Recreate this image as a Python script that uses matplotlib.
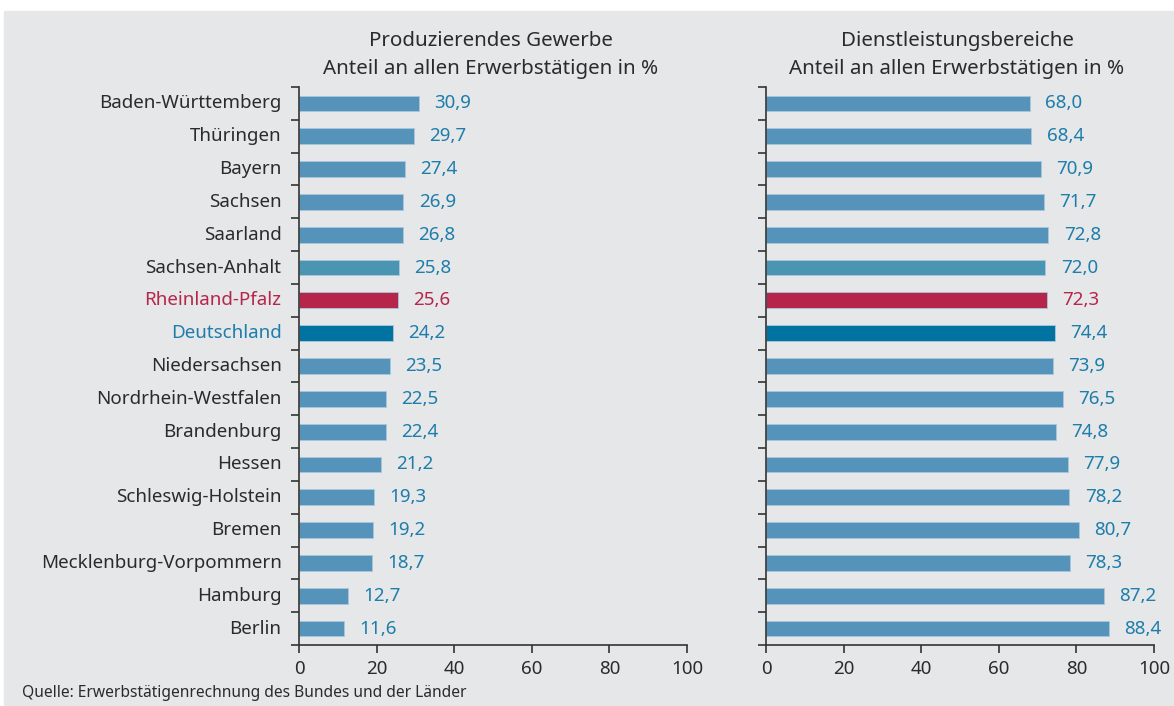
import matplotlib
matplotlib.use('Agg')
import matplotlib.pyplot as plt
from matplotlib.patches import Rectangle

# Bundeslaender, top to bottom
laender = ['Baden-Württemberg', 'Thüringen', 'Bayern', 'Sachsen', 'Saarland',
           'Sachsen-Anhalt', 'Rheinland-Pfalz', 'Deutschland', 'Niedersachsen',
           'Nordrhein-Westfalen', 'Brandenburg', 'Hessen', 'Schleswig-Holstein',
           'Bremen', 'Mecklenburg-Vorpommern', 'Hamburg', 'Berlin']
gewerbe = [30.9, 29.7, 27.4, 26.9, 26.8, 25.8, 25.6, 24.2, 23.5, 22.5,
           22.4, 21.2, 19.3, 19.2, 18.7, 12.7, 11.6]
dienst = [68.0, 68.4, 70.9, 71.7, 72.8, 72.0, 72.3, 74.4, 73.9, 76.5,
          74.8, 77.9, 78.2, 80.7, 78.3, 87.2, 88.4]
xticks = [0, 20, 40, 60, 80, 100]

BG = '#e6e7e9'
BAR = '#5593bb'
BLUE_TXT = '#1d7dab'
RED = '#b5264a'
DE = '#0073a0'
ANHALT = '#4a96b2'
DARK = '#2b2b2b'
FS = 13.5

plt.rcParams['font.family'] = ['Noto Sans', 'DejaVu Sans']

fig = plt.figure(figsize=(11.74, 7.06), dpi=100)
fig.patch.set_facecolor('white')
fig.patches.append(Rectangle((4 / 1174, 0), 1, 1 - 11 / 706,
                             transform=fig.transFigure, color=BG, zorder=-10))


def bar_color(name):
    if name == 'Rheinland-Pfalz':
        return RED
    if name == 'Deutschland':
        return DE
    if name == 'Sachsen-Anhalt':
        return ANHALT
    return BAR


def label_color(name):
    if name == 'Rheinland-Pfalz':
        return RED
    if name == 'Deutschland':
        return BLUE_TXT
    return DARK


def panel(rect, values, show_names):
    ax = fig.add_axes(rect)
    ax.set_facecolor('none')
    pos = list(range(len(laender)))
    ax.barh(pos, values, height=0.48, color=[bar_color(n) for n in laender],
            edgecolor='#a9c7dc', linewidth=0.6)
    for p, v, n in zip(pos, values, laender):
        ax.annotate(f'{v:.1f}'.replace('.', ','), (v, p), xytext=(11, 0),
                    textcoords='offset points', va='center', ha='left',
                    fontsize=FS,
                    color=RED if n == 'Rheinland-Pfalz' else BLUE_TXT)
    ax.set_xlim(0, 100)
    ax.set_ylim(len(laender) - 0.5, -0.5)
    ax.set_xticks(xticks)
    ax.set_xticklabels([str(t) for t in xticks], fontsize=FS, color=DARK)
    ax.set_yticks([i - 0.5 for i in range(len(laender) + 1)])
    ax.set_yticklabels([])
    ax.tick_params(axis='both', length=6, width=1.2, color='#333333')
    ax.tick_params(axis='x', pad=5)
    if show_names:
        for p, n in zip(pos, laender):
            ax.text(-0.045, p, n, transform=ax.get_yaxis_transform(),
                    ha='right', va='center', fontsize=FS,
                    color=label_color(n))
    for s in ['top', 'right']:
        ax.spines[s].set_visible(False)
    for s in ['left', 'bottom']:
        ax.spines[s].set_color('#333333')
        ax.spines[s].set_linewidth(1.2)
    return ax


ax1 = panel([299 / 1174, 1 - 645 / 706, 388 / 1174, 558 / 706], gewerbe, True)
ax2 = panel([766 / 1174, 1 - 645 / 706, 388 / 1174, 558 / 706], dienst, False)

fig.text(491 / 1174, 1 - 55 / 706,
         'Produzierendes Gewerbe\nAnteil an allen Erwerbstätigen in %',
         ha='center', va='center', fontsize=14.8, color=DARK, linespacing=1.55)
fig.text(957 / 1174, 1 - 55 / 706,
         'Dienstleistungsbereiche\nAnteil an allen Erwerbstätigen in %',
         ha='center', va='center', fontsize=14.8, color=DARK, linespacing=1.55)
fig.text(22 / 1174, 1 - 693 / 706,
         'Quelle: Erwerbstätigenrechnung des Bundes und der Länder',
         ha='left', va='center', fontsize=11.2, color=DARK)

fig.savefig('out.png', dpi=100, facecolor=fig.get_facecolor())
